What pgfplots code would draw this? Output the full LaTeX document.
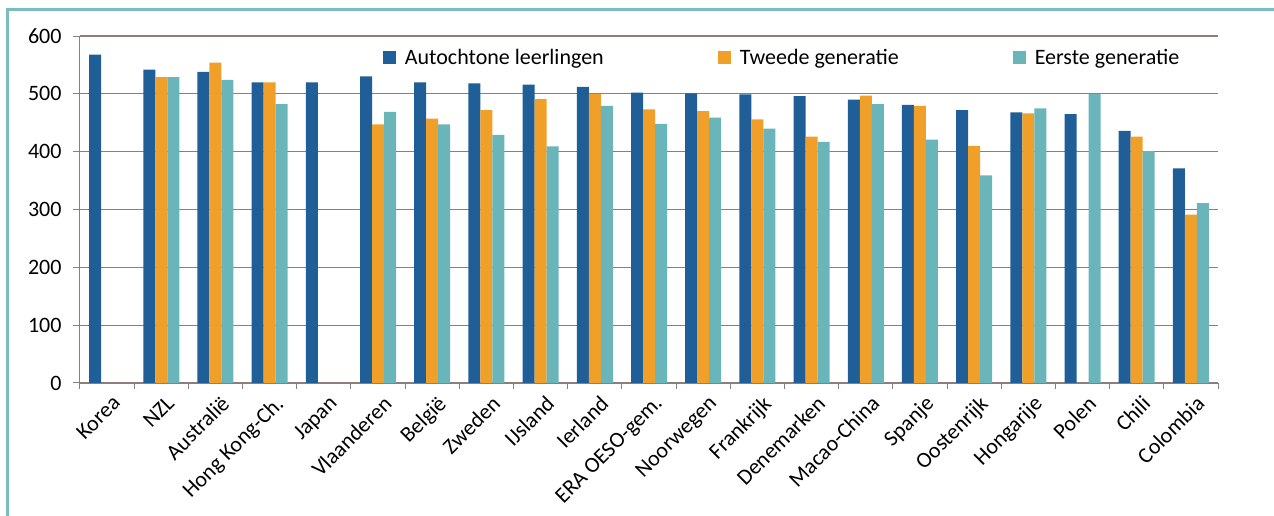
\documentclass[border=0pt]{standalone}
\usepackage{fontspec}
\setmainfont{Carlito}
\usepackage{pgfplots}
\pgfplotsset{compat=1.18}

\definecolor{cblue}{RGB}{31,94,150}
\definecolor{corange}{RGB}{240,160,40}
\definecolor{cteal}{RGB}{106,181,186}
\definecolor{cgrid}{RGB}{140,126,120}
\definecolor{cframe}{RGB}{120,190,190}

\pgfplotsset{
  legsq/.style={legend image code/.code={\fill[##1] (0pt,-6.5pt) rectangle (13pt,6.5pt);}},
}

\begin{document}
\begin{tikzpicture}[x=1pt,y=1pt]
\useasboundingbox (-80,-133) rectangle (1194,383);
\draw[cframe, line width=3pt] (-72,-140) -- (-72,373) -- (1200,373);
\begin{axis}[
  at={(0,0)}, anchor=south west,
  scale only axis, width=1138pt, height=347pt,
  ybar=0pt, bar width=12pt,
  xmin=-0.5, xmax=20.5, ymin=0, ymax=600,
  axis x line*=bottom, axis y line*=left,
  axis line style={cgrid, line width=1pt, -},
  ymajorgrids, grid style={cgrid, line width=1.2pt},
  tick align=outside,
  ytick={0,100,...,600},
  xtick={0,...,20},
  xticklabels={Korea, NZL, Australië, Hong Kong-Ch., Japan, Vlaanderen, België,
    Zweden, IJsland, Ierland, ERA OESO-gem., Noorwegen, Frankrijk, Denemarken,
    Macao-China, Spanje, Oostenrijk, Hongarije, Polen, Chili, Colombia},
  minor xtick={-0.5,0.5,...,20.5},
  major x tick style={draw=none},
  minor x tick style={cgrid, line width=1pt},
  y tick style={cgrid, line width=1pt},
  major tick length=7pt, minor tick length=6pt,
  /pgf/number format/assume math mode=true,
  tick label style={font=\fontsize{22}{26}\selectfont},
  yticklabel style={anchor=east, xshift=-8pt},
  xticklabel style={rotate=45, anchor=north east, inner sep=2pt, xshift=2pt, yshift=-4pt},
  legend columns=-1,
  legend cell align=left,
  legend style={draw=none, fill=none, inner sep=0pt,
    at={(0.266,0.939)}, anchor=west,
    font=\fontsize{22}{26}\selectfont,
    /tikz/every odd column/.append style={column sep=7pt},
    /tikz/every even column/.append style={column sep=112pt}},
]
\addplot[fill=cblue, draw=none, legsq] coordinates {
  (0,568) (1,542) (2,538) (3,520) (4,520) (5,530) (6,520) (7,518) (8,516)
  (9,512) (10,502) (11,501) (12,499) (13,496) (14,490) (15,481) (16,472)
  (17,468) (18,465) (19,436) (20,371)
};
\addlegendentry{Autochtone leerlingen}
\addplot[fill=corange, draw=none, legsq] coordinates {
  (1,529) (2,554) (3,520) (5,447) (6,457) (7,472) (8,491) (9,500) (10,473)
  (11,470) (12,456) (13,426) (14,497) (15,479) (16,410) (17,466) (19,426) (20,291)
};
\addlegendentry{Tweede generatie}
\addplot[fill=cteal, draw=none, legsq] coordinates {
  (1,529) (2,524) (3,482) (5,469) (6,447) (7,429) (8,409) (9,479) (10,448)
  (11,459) (12,440) (13,417) (14,482) (15,421) (16,359) (17,475) (18,500)
  (19,401) (20,311)
};
\addlegendentry{Eerste generatie}
\end{axis}
\end{tikzpicture}
\end{document}
